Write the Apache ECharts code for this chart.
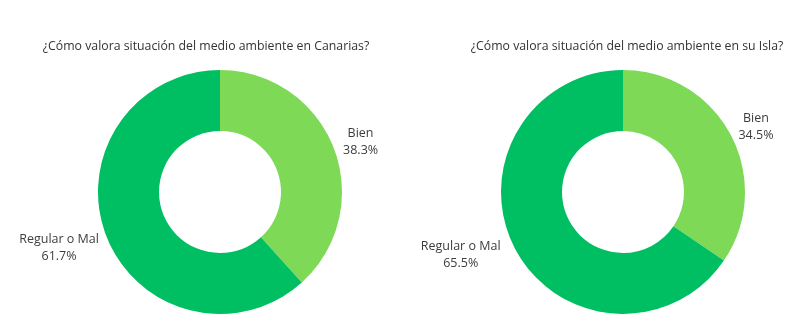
<!DOCTYPE html>
<html>
<head>
<meta charset="utf-8">
<script src="https://cdn.jsdelivr.net/npm/echarts@6/dist/echarts.min.js"></script>
<style>
  html, body { margin: 0; padding: 0; background: #fff; }
  #chart { width: 800px; height: 334px; }
</style>
</head>
<body>
<div id="chart"></div>
<script>
// Survey: perceived state of the environment
const categories = ['Bien', 'Regular o Mal'];
const canariasValues = [38.3, 61.7];
const islaValues = [34.5, 65.5];
const titles = [
  '¿Cómo valora situación del medio ambiente en Canarias?',
  '¿Cómo valora situación del medio ambiente en su Isla?'
];
const colors = ['#7ED957', '#00BF63'];

const FONT = '"Open Sans", sans-serif';
const TEXT = '#3d3d3d';

// labelShift: per-slice nudge of the outside labels, in pixels
function donut(values, center, labelShift) {
  return {
    type: 'pie',
    center: center,
    radius: [61, 122],
    startAngle: 90,
    clockwise: true,
    avoidLabelOverlap: false,
    silent: true,
    label: {
      show: true,
      position: 'outside',
      distanceToLabelLine: 0,
      formatter: p => '{t|' + p.name + '}\n{t|' + p.value.toFixed(1) + '%}',
      rich: {
        t: { fontFamily: FONT, fontSize: 12.5, color: TEXT, lineHeight: 17, align: 'center' }
      }
    },
    labelLine: { show: false, length: 12, length2: 0 },
    data: categories.map((name, i) => ({
      name: name,
      value: values[i],
      itemStyle: { color: colors[i] },
      label: { offset: labelShift[i] }
    }))
  };
}

const chart = echarts.init(document.getElementById('chart'), null, { renderer: 'canvas' });
chart.setOption({
  backgroundColor: '#ffffff',
  animation: false,
  title: [
    { text: titles[0], left: 201, top: 35, textAlign: 'center',
      textStyle: { fontFamily: FONT, fontSize: 12.3, fontWeight: 'normal', color: '#333' } },
    { text: titles[1], left: 622, top: 35, textAlign: 'center',
      textStyle: { fontFamily: FONT, fontSize: 12.3, fontWeight: 'normal', color: '#333' } }
  ],
  series: [
    donut(canariasValues, [220, 192], [[-2, -2], [4, 8]]),
    donut(islaValues, [623, 192], [[-3, -2], [-4, 0]])
  ]
});
</script>
</body>
</html>
